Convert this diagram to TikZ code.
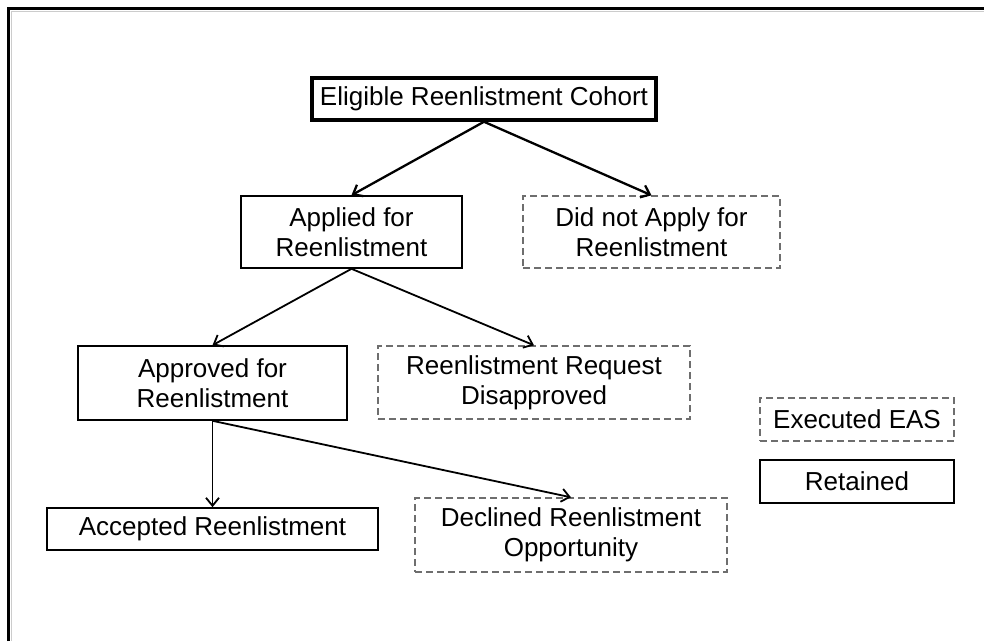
\documentclass[tikz,border=0pt]{standalone}
\usepackage{fontspec}
\setmainfont{Liberation Sans}
\usetikzlibrary{arrows.meta}
\definecolor{dashgray}{RGB}{110,110,110}
\begin{document}
\begin{tikzpicture}[x=1pt,y=-1pt,
  base/.style={rectangle, align=center, inner sep=0pt, text=black,
    font=\fontsize{26}{30}\selectfont},
  solidbox/.style={base, draw=black, line width=1.6pt},
  topbox/.style={base, draw=black, line width=3.5pt},
  dashbox/.style={base, draw=dashgray, line width=1.4pt, dash pattern=on 7pt off 4pt},
  conn/.style={-{Straight Barb[length=8pt,width=13pt]}, line width=1.8pt, black},
  topconn/.style={conn, line width=2.3pt}]
\useasboundingbox (0,0) rectangle (984,641);
% outer frame
\draw[gray!40, line width=1pt] (11,641) -- (11,11) -- (984,11);
\draw[line width=3pt] (8.5,641) -- (8.5,8.5) -- (984,8.5);

\node[topbox, minimum width=344pt, minimum height=42pt] (elig) at (484,99) {Eligible Reenlistment Cohort};
\node[solidbox, minimum width=221pt, minimum height=72pt] (applied) at (351.5,232) {Applied for\\Reenlistment};
\node[dashbox, minimum width=257pt, minimum height=72pt] (didnot) at (651.5,232) {Did not Apply for\\Reenlistment};
\node[solidbox, minimum width=269pt, minimum height=74pt] (approved) at (212.5,383) {Approved for\\Reenlistment};
\node[dashbox, minimum width=312pt, minimum height=73pt] (disapp) at (534,382.5) {Reenlistment Request\\Disapproved};
\node[dashbox, minimum width=194pt, minimum height=43pt] (eas) at (857,419.5) {Executed EAS};
\node[solidbox, minimum width=194pt, minimum height=43pt] (retained) at (857,481.5) {Retained};
\node[solidbox, minimum width=331pt, minimum height=42pt] (accepted) at (212.5,529) {Accepted Reenlistment};
\node[dashbox, minimum width=312pt, minimum height=74pt] (declined) at (571,535) {Declined Reenlistment\\Opportunity};

\draw[topconn] (elig.south) -- (applied.north);
\draw[topconn] (elig.south) -- (didnot.north);
\draw[conn] (applied.south) -- (approved.north);
\draw[conn] (applied.south) -- (disapp.north);
\draw[conn] (approved.south) -- (accepted.north);
\draw[conn] (approved.south) -- (declined.north);
\end{tikzpicture}
\end{document}
